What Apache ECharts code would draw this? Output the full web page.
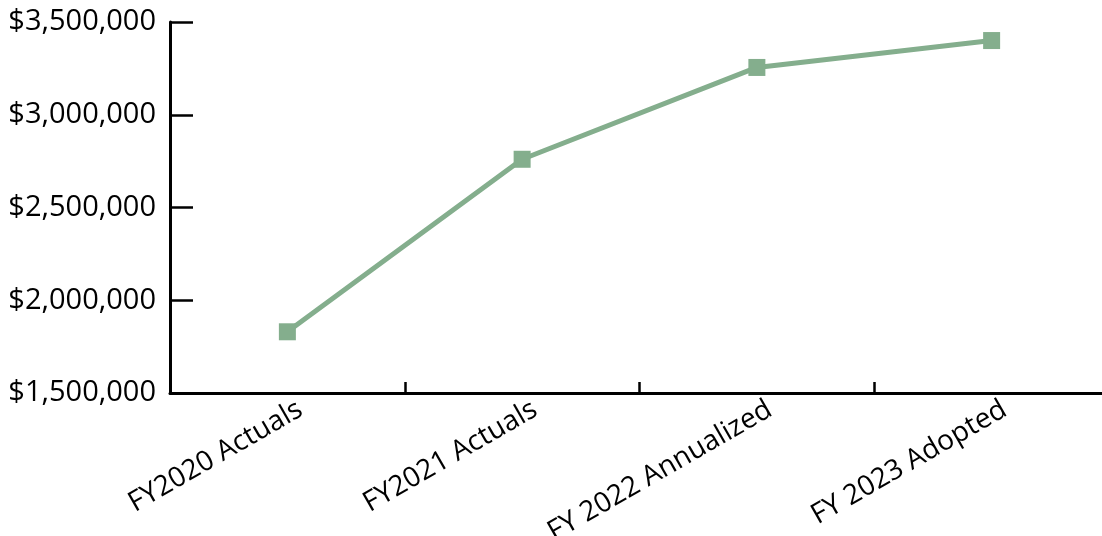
<!DOCTYPE html>
<html>
<head>
<meta charset="utf-8">
<script src="https://cdn.jsdelivr.net/npm/echarts@6/dist/echarts.min.js"></script>
<style>
  html, body { margin: 0; padding: 0; background: #ffffff; }
  #chart { width: 1102px; height: 536px; }
</style>
</head>
<body>
<div id="chart"></div>
<script>
// Budget by fiscal year
const categories = ['FY2020 Actuals', 'FY2021 Actuals', 'FY 2022 Annualized', 'FY 2023 Adopted'];
const amounts = [1830000, 2760000, 3255000, 3400000];
const yTicks = { min: 1500000, max: 3500000, step: 500000 };

const FONT = '"Open Sans", "Noto Sans", sans-serif';
const GREEN = '#84ae8d';

function money(v) {
  return '$' + Math.round(v).toString().replace(/\B(?=(\d{3})+(?!\d))/g, ',');
}

const chart = echarts.init(document.getElementById('chart'), null, { renderer: 'canvas' });
chart.setOption({
  animation: false,
  backgroundColor: '#ffffff',
  // plot runs past the right edge so the last category keeps its full width
  grid: {
    left: 170, width: 939, top: 22, height: 371,
    containLabel: false,
    outerBoundsMode: 'none'
  },
  xAxis: {
    type: 'category',
    data: categories,
    boundaryGap: true,
    axisLine: { lineStyle: { color: '#000000', width: 3 } },
    axisTick: { show: true, inside: true, length: 11, lineStyle: { color: '#000000', width: 2.5 } },
    axisLabel: {
      rotate: 30,
      margin: 22,
      padding: [0, -15, 0, 0],
      color: '#000000',
      fontFamily: FONT,
      fontSize: 28,
      interval: 0
    },
    splitLine: { show: false }
  },
  yAxis: {
    type: 'value',
    min: yTicks.min,
    max: yTicks.max,
    interval: yTicks.step,
    axisLine: { show: true, lineStyle: { color: '#000000', width: 3 } },
    axisTick: { show: true, inside: true, length: 23, lineStyle: { color: '#000000', width: 2.5 } },
    axisLabel: {
      margin: 14,
      color: '#000000',
      fontFamily: FONT,
      fontSize: 29,
      formatter: money
    },
    splitLine: { show: false }
  },
  series: [{
    type: 'line',
    data: amounts,
    symbol: 'rect',
    symbolSize: 17,
    lineStyle: { color: GREEN, width: 5 },
    itemStyle: { color: GREEN },
    emphasis: { disabled: true }
  }]
});
</script>
</body>
</html>
